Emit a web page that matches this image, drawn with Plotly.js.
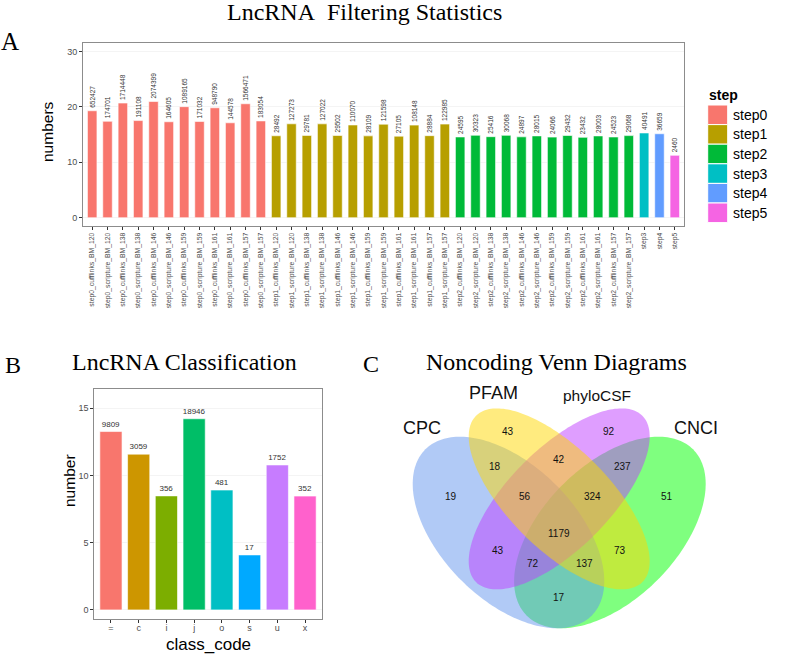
<!DOCTYPE html>
<html><head><meta charset="utf-8">
<script src="https://cdn.plot.ly/plotly-3.0.1.min.js"></script>
<style>html,body{margin:0;padding:0;background:#fff}#chart{width:787px;height:658px}</style>
</head><body><div id="chart"></div>
<script>
// ---------------- DATA ----------------
// Panel A
const stepNames = ["step0", "step1", "step2", "step3", "step4", "step5"];
const stepColors = ["#F8766D", "#B79F00", "#00BA38", "#00BFC4", "#619CFF", "#F564E3"];
const sampleNames = ["cufflinks_BM_120", "scripture_BM_120", "cufflinks_BM_138", "scripture_BM_138",
  "cufflinks_BM_146", "scripture_BM_146", "cufflinks_BM_159", "scripture_BM_159",
  "cufflinks_BM_161", "scripture_BM_161", "cufflinks_BM_157", "scripture_BM_157"];
const step0Values = [652427, 174701, 1714448, 191108, 2074399, 164605, 1089165, 171032, 948790, 144578, 1566471, 183054];
const step1Values = [28492, 127273, 29781, 127022, 29502, 110070, 28109, 121598, 27105, 108148, 28884, 122985];
const step2Values = [24595, 30323, 25416, 30068, 24897, 28015, 24066, 29432, 23432, 28003, 24523, 29068];
const step3Values = [40491];
const step4Values = [36659];
const step5Values = [2460];
const yTicksA = [0, 10, 20, 30];

// Panel B
const classCodes = ["=", "c", "i", "j", "o", "s", "u", "x"];
const classCounts = [9809, 3059, 356, 18946, 481, 17, 1752, 352];
const classColors = ["#F8766D", "#CD9600", "#7CAE00", "#00BE67", "#00BFC4", "#00A9FF", "#C77CFF", "#FF61CC"];
const yTicksB = [0, 5, 10, 15];

// Panel C (Venn region counts)
const vennSets = ["CPC", "PFAM", "phyloCSF", "CNCI"];
const vennRegions = ["PFAM", "phyloCSF", "CPC&PFAM", "PFAM&phyloCSF", "phyloCSF&CNCI", "CPC",
  "CPC&PFAM&phyloCSF", "PFAM&phyloCSF&CNCI", "CNCI", "all", "CPC&phyloCSF", "PFAM&CNCI",
  "CPC&phyloCSF&CNCI", "CPC&PFAM&CNCI", "CPC&CNCI"];
const vennCounts = [43, 92, 18, 42, 237, 19, 56, 324, 51, 1179, 43, 73, 72, 137, 17];

// ---------------- LAYOUT HELPERS ----------------
const W = 787, H = 658;
const P = px => px / W;
const Q = py => 1 - py / H;
const SANS = "Liberation Sans, Arial, sans-serif";
const SERIF = "Liberation Serif, Times New Roman, serif";

// Panel A categories / values
const stepLists = [step0Values, step1Values, step2Values, step3Values, step4Values, step5Values];
const catA = [], valA = [], colA = [];
stepLists.forEach((arr, s) => {
  arr.forEach((v, i) => {
    catA.push(s < 3 ? stepNames[s] + "_" + sampleNames[i] : stepNames[s]);
    valA.push(v);
    colA.push(stepColors[s]);
  });
});

const traces = [];
traces.push({
  type: "bar", x: catA, y: valA.map(v => Math.log2(v)), xaxis: "x", yaxis: "y",
  width: 0.62,
  marker: {color: colA, line: {color: "#ffffff", width: 0.6}},
  text: valA.map(String), textposition: "outside", textangle: -90, constraintext: "none",
  textfont: {family: SANS, size: 6.5, color: "#333333"}, cliponaxis: false,
  hoverinfo: "skip", showlegend: false
});
traces.push({
  type: "bar", x: classCodes, y: classCounts.map(v => Math.log2(v)), xaxis: "x2", yaxis: "y2",
  width: 0.8,
  marker: {color: classColors, line: {color: "#ffffff", width: 0.6}},
  text: classCounts.map(String), textposition: "outside", constraintext: "none",
  textfont: {family: SANS, size: 8, color: "#333333"}, cliponaxis: false,
  hoverinfo: "skip", showlegend: false
});

// Venn ellipses (geometry in pixel-like coordinates of the hidden x3/y3 axes)
const ellipses = [
  {name: "CNCI", cx: 609.9, cy: 532.5, a: 117.6, b: 67.2, dir: -1, color: "rgba(0,255,0,0.5)"},
  {name: "CPC", cx: 508.5, cy: 532.5, a: 117.6, b: 67.2, dir: 1, color: "rgba(100,149,237,0.5)"},
  {name: "phyloCSF", cx: 559.2, cy: 498.9, a: 117.6, b: 50.4, dir: -1, color: "rgba(191,62,255,0.5)"},
  {name: "PFAM", cx: 559.2, cy: 498.9, a: 117.6, b: 50.4, dir: 1, color: "rgba(255,215,0,0.5)"}
];
ellipses.forEach(e => {
  const xs = [], ys = [], r = Math.SQRT1_2;
  for (let k = 0; k <= 200; k++) {
    const t = 2 * Math.PI * k / 200;
    const A = e.a * Math.cos(t), B = e.b * Math.sin(t);
    xs.push(e.cx + r * (A + B));
    ys.push(e.cy + r * e.dir * (A - B));
  }
  traces.push({type: "scatter", mode: "none", fill: "toself", fillcolor: e.color,
    x: xs, y: ys, xaxis: "x3", yaxis: "y3", hoverinfo: "skip", showlegend: false});
});

const vennPos = [[508.3, 431.7], [609, 431.7], [495, 466.7], [559, 459.3], [622.7, 466.7], [451, 496.7],
  [525, 496.7], [592.3, 496.7], [666.7, 496.7], [559, 533.3], [498.3, 550], [620, 550],
  [533.3, 563.3], [584.3, 563.3], [559, 597.3]];
const vennSetPos = [[422, 428, 18], [494, 393, 18], [597, 395, 15.5], [696, 428, 18]];

const annotations = [];
vennCounts.forEach((c, i) => annotations.push({
  xref: "x3", yref: "y3", x: vennPos[i][0], y: vennPos[i][1], text: String(c), showarrow: false,
  font: {family: SANS, size: 10, color: "#111"}, xanchor: "center", yanchor: "middle"
}));
vennSets.forEach((s, i) => annotations.push({
  xref: "x3", yref: "y3", x: vennSetPos[i][0], y: vennSetPos[i][1], text: s, showarrow: false,
  font: {family: SANS, size: vennSetPos[i][2], color: "#111"}, xanchor: "center", yanchor: "middle"
}));

function txt(x, y, text, size, family, extra) {
  return Object.assign({xref: "paper", yref: "paper", x: P(x), y: Q(y), text: text, showarrow: false,
    font: {family: family, size: size, color: "#000"}, xanchor: "center", yanchor: "middle"}, extra || {});
}
annotations.push(txt(364.5, 12, "LncRNA\u00a0 Filtering Statistics", 24, SERIF));
annotations.push(txt(10, 41, "A", 25, SERIF));
annotations.push(txt(13, 365, "B", 24, SERIF));
annotations.push(txt(184, 362, "LncRNA Classification", 24, SERIF));
annotations.push(txt(371, 364, "C", 24, SERIF));
annotations.push(txt(556, 362, "Noncoding Venn Diagrams", 24, SERIF));
annotations.push(txt(48, 132, "numbers", 15.5, SANS, {textangle: -90}));
annotations.push(txt(69, 481, "number", 15.5, SANS, {textangle: -90}));
annotations.push(txt(208, 644, "class_code", 17, SANS));

// Legend for panel A
const shapes = [];
annotations.push(txt(707, 95, "<b>step</b>", 14, SANS, {xanchor: "left"}));
const keyTop = 105, keyH = 19.6;
stepNames.forEach((s, i) => {
  const y0 = keyTop + i * keyH;
  shapes.push({type: "rect", xref: "paper", yref: "paper", x0: P(707.7), x1: P(727.7),
    y0: Q(y0 + keyH), y1: Q(y0), fillcolor: stepColors[i], line: {color: "#ffffff", width: 1}});
  annotations.push(txt(731, y0 + keyH / 2, s, 14, SANS, {xanchor: "left"}));
});

const axBase = {showline: true, mirror: true, linecolor: "#8c8c8c", linewidth: 1, zeroline: false,
  ticks: "outside", ticklen: 3, tickcolor: "#333333", tickwidth: 1, fixedrange: true};

const layout = {
  width: W, height: H, margin: {l: 0, r: 0, t: 0, b: 0}, paper_bgcolor: "#ffffff", plot_bgcolor: "#ffffff",
  showlegend: false, barmode: "overlay", hovermode: false,
  font: {family: SANS},
  xaxis: Object.assign({}, axBase, {domain: [P(83), P(684)], anchor: "y", type: "category",
    range: [-0.6, catA.length - 0.4], tickangle: -90, showgrid: false,
    tickfont: {family: SANS, size: 6.8, color: "#4d4d4d"}}),
  yaxis: Object.assign({}, axBase, {domain: [Q(226), Q(43.3)], anchor: "x", range: [-1.5, 31.5],
    tickvals: yTicksA, ticktext: yTicksA.map(String), showgrid: true, gridcolor: "#f4f4f4",
    tickfont: {family: SANS, size: 9, color: "#4d4d4d"}}),
  xaxis2: Object.assign({}, axBase, {domain: [P(94.3), P(321.7)], anchor: "y2", type: "category",
    range: [-0.6, classCodes.length - 0.4], showgrid: false, ticklabelstandoff: -3,
    tickfont: {family: SANS, size: 9, color: "#4d4d4d"}}),
  yaxis2: Object.assign({}, axBase, {domain: [Q(619.3), Q(389.3)], anchor: "x2", range: [-0.7, 16.4],
    tickvals: yTicksB, ticktext: yTicksB.map(String), showgrid: true, gridcolor: "#f4f4f4",
    tickfont: {family: SANS, size: 9, color: "#4d4d4d"}}),
  xaxis3: {domain: [P(395), P(731)], anchor: "y3", range: [395, 731], visible: false, fixedrange: true},
  yaxis3: {domain: [Q(650), Q(380)], anchor: "x3", range: [650, 380], visible: false, fixedrange: true},
  annotations: annotations,
  shapes: shapes
};

Plotly.newPlot("chart", traces, layout, {staticPlot: true, displayModeBar: false});
</script>
</body></html>
